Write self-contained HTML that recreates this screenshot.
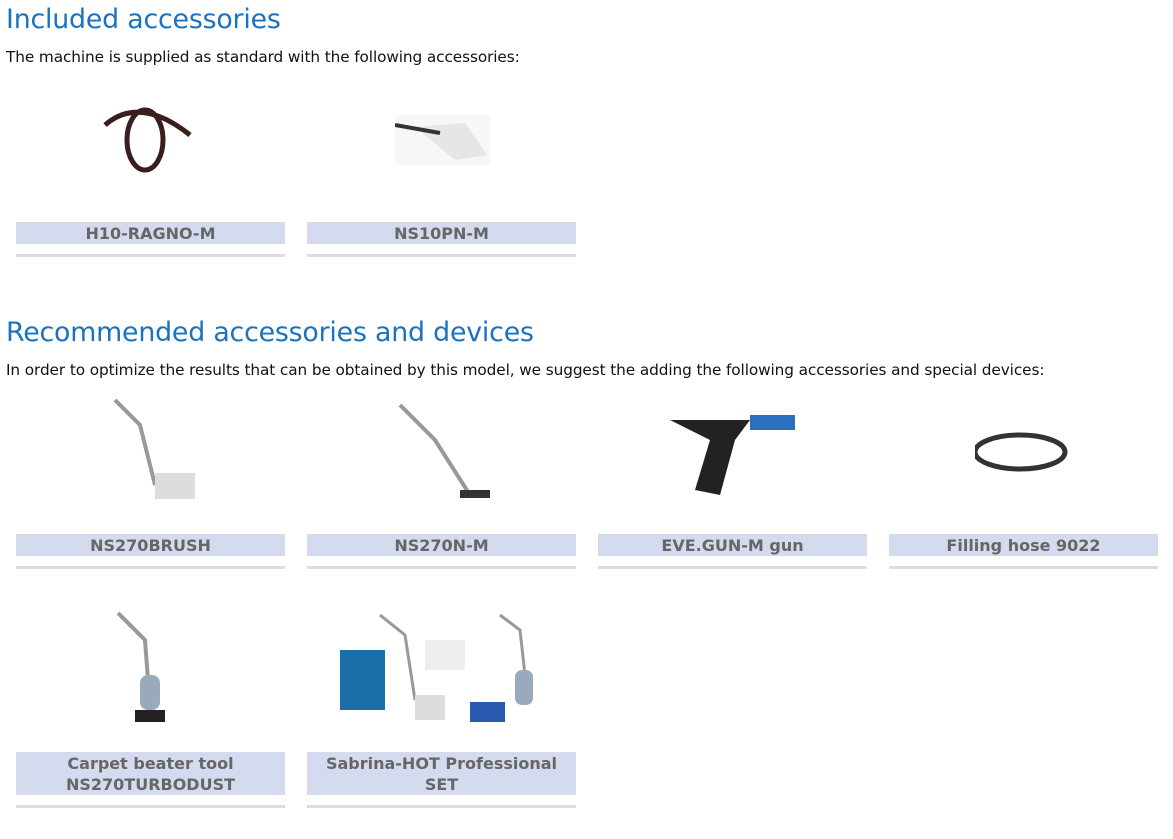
<!DOCTYPE html>
<html><head><style>
body{margin:0;background:#fff;font-family:"DejaVu Sans","Liberation Sans",sans-serif;width:1173px;height:839px;position:relative;overflow:hidden}
h2{position:absolute;left:6px;margin:0;font-weight:normal;color:#1a73c0;font-size:26.8px;letter-spacing:-0.2px}
p{position:absolute;left:6px;margin:0;font-size:15.3px;color:#111;letter-spacing:-0.1px}
.lab{position:absolute;width:269px;background:#d5dbee;color:#666;font-weight:bold;font-size:16px;text-align:center;line-height:21px;padding-top:1px}
.ln{position:absolute;width:269px;height:3px;background:#dcdcdc}
svg{position:absolute}
</style></head><body>
<h2 style="top:4px">Included accessories</h2>
<p style="top:48px">The machine is supplied as standard with the following accessories:</p>
<svg style="left:100px;top:100px" width="100" height="80"><ellipse cx="45" cy="40" rx="18" ry="30" fill="none" stroke="#3a1e1e" stroke-width="5"/><path d="M5 25 Q40 -5 90 35" fill="none" stroke="#3a1e1e" stroke-width="5"/></svg>
<svg style="left:395px;top:115px" width="95" height="50"><rect width="95" height="50" fill="#f7f7f7"/><path d="M20 12 L70 8 L92 40 L60 45 Z" fill="#e6e6e6"/><path d="M0 10 L45 18" stroke="#333" stroke-width="4"/></svg>
<div class="lab" style="left:16px;top:222px">H10-RAGNO-M</div>
<div class="lab" style="left:307px;top:222px">NS10PN-M</div>
<div class="ln" style="left:16px;top:254px"></div><div class="ln" style="left:307px;top:254px"></div>

<h2 style="top:317px">Recommended accessories and devices</h2>
<p style="top:361px">In order to optimize the results that can be obtained by this model, we suggest the adding the following accessories and special devices:</p>
<svg style="left:100px;top:395px" width="100" height="110"><path d="M15 5 L40 30 L55 90" stroke="#999" stroke-width="4" fill="none"/><rect x="55" y="78" width="40" height="26" fill="#ddd"/></svg>
<svg style="left:395px;top:400px" width="100" height="105"><path d="M5 5 L40 40 L75 95" stroke="#999" stroke-width="4" fill="none"/><rect x="65" y="90" width="30" height="8" fill="#333"/></svg>
<svg style="left:660px;top:405px" width="150" height="95"><path d="M10 15 L90 15 L75 35 L60 90 L35 85 L50 35 Z" fill="#222"/><rect x="90" y="10" width="45" height="15" fill="#2a6fc0"/></svg>
<svg style="left:975px;top:430px" width="100" height="45"><ellipse cx="45" cy="22" rx="45" ry="17" fill="none" stroke="#333" stroke-width="5"/></svg>
<div class="lab" style="left:16px;top:534px">NS270BRUSH</div>
<div class="lab" style="left:307px;top:534px">NS270N-M</div>
<div class="lab" style="left:598px;top:534px">EVE.GUN-M gun</div>
<div class="lab" style="left:889px;top:534px">Filling hose 9022</div>
<div class="ln" style="left:16px;top:566px"></div><div class="ln" style="left:307px;top:566px"></div><div class="ln" style="left:598px;top:566px"></div><div class="ln" style="left:889px;top:566px"></div>
<svg style="left:110px;top:610px" width="80" height="120"><path d="M8 3 L35 30 L38 70" stroke="#999" stroke-width="4" fill="none"/><rect x="30" y="65" width="20" height="35" rx="8" fill="#9ab"/><rect x="25" y="100" width="30" height="12" fill="#222"/></svg>
<svg style="left:330px;top:610px" width="225" height="115"><rect x="10" y="40" width="45" height="60" fill="#1a6fa8"/><path d="M50 5 L75 25 L85 90" stroke="#999" stroke-width="3" fill="none"/><rect x="85" y="85" width="30" height="25" fill="#ddd"/><rect x="95" y="30" width="40" height="30" fill="#eee"/><rect x="140" y="92" width="35" height="20" fill="#2a5ab0"/><path d="M170 5 L190 20 L195 65" stroke="#999" stroke-width="3" fill="none"/><rect x="185" y="60" width="18" height="35" rx="7" fill="#9ab"/></svg>
<div class="lab" style="left:16px;top:752px">Carpet beater tool<br>NS270TURBODUST</div>
<div class="lab" style="left:307px;top:752px">Sabrina-HOT Professional<br>SET</div>
<div class="ln" style="left:16px;top:805px"></div><div class="ln" style="left:307px;top:805px"></div>
</body></html>
